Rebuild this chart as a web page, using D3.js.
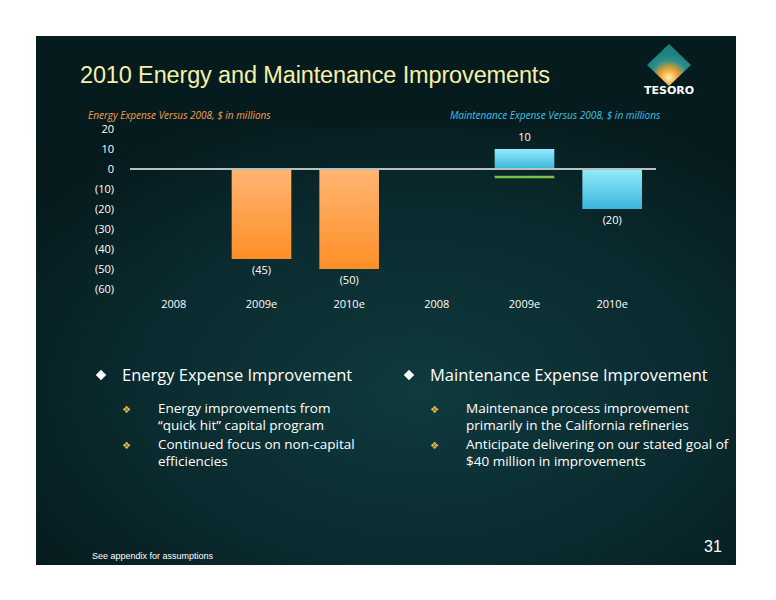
<!DOCTYPE html>
<html><head><meta charset="utf-8">
<script src="https://cdn.jsdelivr.net/npm/d3@7"></script>
<style>body{margin:0;background:#fff}svg{display:block}</style>
</head><body>
<svg id="chart" width="776" height="600"></svg>
<script>
var categories = ["2008", "2009e", "2010e", "2008 ", "2009e ", "2010e "];
var energyValues = [null, -45, -50, null, null, null];
var maintValues = [null, null, null, null, 10, -20];
var valueLabels = ["", "(45)", "(50)", "", "10", "(20)"];
var maintTarget = -4; // green marker under 2009e maintenance
var yTicks = [20, 10, 0, -10, -20, -30, -40, -50, -60];

var svg = d3.select("#chart");
var defs = svg.append("defs");

var bg = defs.append("radialGradient").attr("id", "bg").attr("cx", "55%").attr("cy", "60%").attr("r", "70%");
bg.append("stop").attr("offset", "0%").attr("stop-color", "#0f3a3e");
bg.append("stop").attr("offset", "60%").attr("stop-color", "#0a2a2e");
bg.append("stop").attr("offset", "100%").attr("stop-color", "#061a1c");
var og = defs.append("linearGradient").attr("id", "orange").attr("x1", 0).attr("y1", 0).attr("x2", 0).attr("y2", 1);
og.append("stop").attr("offset", "0%").attr("stop-color", "#ffb574");
og.append("stop").attr("offset", "100%").attr("stop-color", "#ff8f26");
var bl = defs.append("linearGradient").attr("id", "blue").attr("x1", 0).attr("y1", 0).attr("x2", 0).attr("y2", 1);
bl.append("stop").attr("offset", "0%").attr("stop-color", "#93ecfb");
bl.append("stop").attr("offset", "100%").attr("stop-color", "#3bb5dc");
var lg = defs.append("radialGradient").attr("id", "logo").attr("cx", "50%").attr("cy", "80%").attr("r", "60%");
lg.append("stop").attr("offset", "0%").attr("stop-color", "#fff0b0");
lg.append("stop").attr("offset", "35%").attr("stop-color", "#f0a030");
lg.append("stop").attr("offset", "70%").attr("stop-color", "#2a8f8a");
lg.append("stop").attr("offset", "100%").attr("stop-color", "#1f7f7c");

// slide
svg.append("rect").attr("x", 36).attr("y", 36).attr("width", 700).attr("height", 529).attr("fill", "#061b1d");
svg.append("path").attr("d", "M36,140 Q40,128 70,127 L736,127 L736,565 L36,565 Z").attr("fill", "url(#bg)");

svg.append("text").attr("x", 80).attr("y", 83).attr("fill", "#f4f0a8")
  .attr("font-family", "Liberation Sans, Arial").attr("font-size", 23.5).attr("textLength", 470).text("2010 Energy and Maintenance Improvements");

// logo
svg.append("path").attr("d", "M669,44 L691,65 L669,86 L647,65 Z").attr("fill", "url(#logo)");
svg.append("text").attr("x", 669).attr("y", 94).attr("text-anchor", "middle").attr("fill", "#fff")
  .attr("font-family", "DejaVu Sans").attr("font-weight", "bold").attr("font-size", 11).text("TESORO");

var font = "Open Sans, Noto Sans";
var x = d3.scaleBand().domain(categories).range([130, 656]).paddingInner(0.32).paddingOuter(0.16);
var y = d3.scaleLinear().domain([-60, 20]).range([289, 129]);

svg.append("text").attr("x", 88).attr("y", 119).attr("fill", "#f0a050").attr("font-style", "italic")
  .attr("font-family", font).attr("font-size", 10).text("Energy Expense Versus 2008, $ in millions");
svg.append("text").attr("x", 450).attr("y", 119).attr("fill", "#3ec3e8").attr("font-style", "italic")
  .attr("font-family", font).attr("font-size", 10).text("Maintenance Expense Versus 2008, $ in millions");

var yAxis = svg.append("g").attr("transform", "translate(117,0)")
  .call(d3.axisLeft(y).tickValues(yTicks).tickSize(0).tickFormat(function (d) { return d < 0 ? "(" + (-d) + ")" : d; }));
yAxis.select(".domain").remove();
yAxis.selectAll("text").attr("fill", "#fff").attr("font-family", font).attr("font-size", 11);

function bars(vals, fill) {
  var d = categories.map(function (c, i) { return {c: c, v: vals[i]}; }).filter(function (e) { return e.v !== null; });
  svg.append("g").selectAll("rect").data(d).join("rect")
    .attr("x", function (e) { return x(e.c); }).attr("width", x.bandwidth())
    .attr("y", function (e) { return y(Math.max(0, e.v)); })
    .attr("height", function (e) { return Math.abs(y(e.v) - y(0)); })
    .attr("fill", fill);
}
bars(energyValues, "url(#orange)");
bars(maintValues, "url(#blue)");

svg.append("line").attr("x1", 130).attr("x2", 656).attr("y1", y(0)).attr("y2", y(0))
  .attr("stroke", "#b8c0c0").attr("stroke-width", 2);
svg.append("line").attr("x1", x(categories[4])).attr("x2", x(categories[4]) + x.bandwidth())
  .attr("y1", y(maintTarget)).attr("y2", y(maintTarget)).attr("stroke", "#7cc242").attr("stroke-width", 2.5);

svg.append("g").selectAll("text").data(categories).join("text")
  .attr("x", function (c, i) { return x(c) + x.bandwidth() / 2; })
  .attr("y", function (c, i) {
    var v = energyValues[i] !== null ? energyValues[i] : maintValues[i];
    return v === null ? 0 : (v > 0 ? y(v) - 8 : y(v) + 15);
  })
  .attr("text-anchor", "middle").attr("fill", "#fff").attr("font-family", font).attr("font-size", 11)
  .text(function (c, i) { return valueLabels[i]; });

var xAxis = svg.append("g").attr("transform", "translate(0,302)").call(d3.axisBottom(x).tickSize(0));
xAxis.select(".domain").remove();
xAxis.selectAll("text").attr("fill", "#fff").attr("font-family", font).attr("font-size", 11).attr("dy", "0.3em");

// bullets
var bullets = [
  {x: 97, title: "Energy Expense Improvement", subs: [["Energy improvements from", "\u201cquick hit\u201d capital program"], ["Continued focus on non-capital", "efficiencies"]]},
  {x: 405, title: "Maintenance Expense Improvement", subs: [["Maintenance process improvement", "primarily in the California refineries"], ["Anticipate delivering on our stated goal of", "$40 million in improvements"]]}
];
bullets.forEach(function (b) {
  var g = svg.append("g");
  g.append("path").attr("d", d3.symbol(d3.symbolDiamond2, 70)()).attr("transform", "translate(" + (b.x + 4) + ",375)").attr("fill", "#fff");
  g.append("text").attr("x", b.x + 25).attr("y", 381).attr("fill", "#fff").attr("font-family", font).attr("font-size", 16.5).text(b.title);
  b.subs.forEach(function (s, i) {
    var yy = 413 + i * 36;
    g.append("text").attr("x", b.x + 25).attr("y", yy).attr("fill", "#e8b850").attr("font-size", 10).attr("font-family", "DejaVu Sans").text("\u2756");
    s.forEach(function (line, j) {
      g.append("text").attr("x", b.x + 61).attr("y", yy + j * 17).attr("fill", "#fff").attr("font-family", font).attr("font-size", 13.5).text(line);
    });
  });
});

svg.append("text").attr("x", 713).attr("y", 552).attr("text-anchor", "middle").attr("fill", "#fff")
  .attr("font-family", "Liberation Sans, Arial").attr("font-size", 16).text("31");
svg.append("text").attr("x", 92).attr("y", 559).attr("fill", "#fff")
  .attr("font-family", "Liberation Sans, Arial").attr("font-size", 9).text("See appendix for assumptions");
</script>
</body></html>
